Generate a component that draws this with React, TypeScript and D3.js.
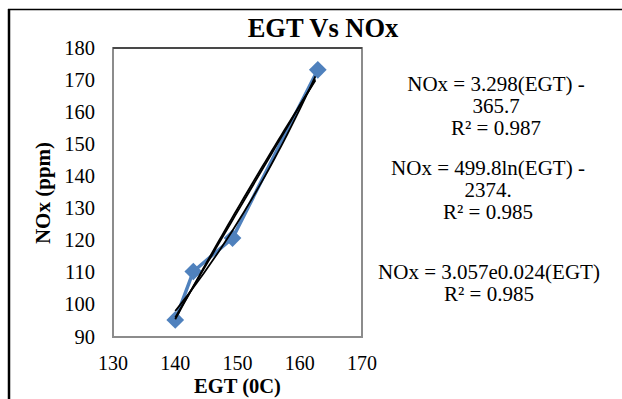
import React from 'react';
import * as d3 from 'd3';

// measured points
const egt = [140, 142.9, 149.2, 162.9];
const nox = [95.3, 110.4, 120.8, 173.2];

const xTicks = [130, 140, 150, 160, 170];
const yTicks = [90, 100, 110, 120, 130, 140, 150, 160, 170, 180];

const eqLinear = ['NOx = 3.298(EGT) -', '365.7', 'R² = 0.987'];
const eqLog = ['NOx = 499.8ln(EGT) -', '2374.', 'R² = 0.985'];
const eqExp = ['NOx = 3.057e0.024(EGT)', 'R² = 0.985'];

const W = 622;
const H = 399;
const plot = { left: 113, right: 362, top: 48, bottom: 337 };
const serif = '"Liberation Serif", "Times New Roman", serif';

// least squares on transformed x / y, used for the three trendlines
function fit(xs: number[], ys: number[]) {
  const mx = d3.mean(xs)!;
  const my = d3.mean(ys)!;
  const sxy = d3.sum(xs, (x, i) => (x - mx) * (ys[i] - my));
  const sxx = d3.sum(xs, x => (x - mx) * (x - mx));
  const b = sxy / sxx;
  return { a: my - b * mx, b };
}

const App = () => {
  const x = d3.scaleLinear().domain([130, 170]).range([plot.left, plot.right]);
  const y = d3.scaleLinear().domain([90, 180]).range([plot.bottom, plot.top]);

  const pts = egt.map((e, i) => ({ e, n: nox[i] }));
  const line = d3.line<{ e: number; n: number }>().x(d => x(d.e)).y(d => y(d.n));

  const lin = fit(egt, nox);
  const lg = fit(egt.map(Math.log), nox);
  const ex = fit(egt, nox.map(Math.log));
  const xs = d3.range(d3.min(egt)!, d3.max(egt)! + 0.01, 0.5);
  const trends = [
    xs.map(e => ({ e, n: lin.a + lin.b * e })),
    xs.map(e => ({ e, n: lg.a + lg.b * Math.log(e) })),
    xs.map(e => ({ e, n: Math.exp(ex.a + ex.b * e) })),
  ];

  const diamond = d3.symbol().type(d3.symbolDiamond2).size(200)()!;

  const block = (lines: string[], cx: number, y0: number, key: string) =>
    lines.map((t, i) => (
      <text key={key + i} x={cx} y={y0 + i * 22} textAnchor="middle" fontSize={21}>{t}</text>
    ));

  return (
    <svg width={W} height={H} style={{ position: 'absolute', left: 0, top: 0, background: '#fff' }}
      fontFamily={serif}>
      <rect width={W} height={H} fill="#fff" />
      {/* chart area border, cut off right and bottom */}
      <line x1={8} x2={W} y1={9.5} y2={9.5} stroke="#000" strokeWidth={1.5} />
      <line x1={9} x2={9} y1={9} y2={H} stroke="#000" strokeWidth={2.5} />

      <text x={323} y={37} textAnchor="middle" fontWeight="bold" fontSize={26.5}>EGT Vs NOx</text>

      <rect x={plot.left} y={plot.top} width={plot.right - plot.left} height={plot.bottom - plot.top}
        fill="none" stroke="#8c8c8c" strokeWidth={2} />
      <line x1={plot.left} x2={plot.right} y1={plot.top} y2={plot.top} stroke="#333" strokeWidth={1.5} />

      {yTicks.map(t => (
        <text key={'y' + t} x={95} y={y(t) + 6.5} textAnchor="end" fontSize={20.5}>{t}</text>
      ))}
      {xTicks.map(t => (
        <text key={'x' + t} x={x(t)} y={370} textAnchor="middle" fontSize={20}>{t}</text>
      ))}
      <text x={(plot.left + plot.right) / 2} y={393} textAnchor="middle" fontWeight="bold" fontSize={20.5}>EGT (0C)</text>
      <text transform={`translate(50,193) rotate(-90)`} textAnchor="middle" fontWeight="bold" fontSize={21}>NOx (ppm)</text>

      <path d={line(pts)!} fill="none" stroke="#4f81bd" strokeWidth={3.5} strokeLinejoin="round" />
      {pts.map((p, i) => (
        <path key={'m' + i} d={diamond} transform={`translate(${x(p.e)},${y(p.n)})`} fill="#4f81bd" />
      ))}
      {trends.map((tr, i) => (
        <path key={'t' + i} d={line(tr)!} fill="none" stroke="#000" strokeWidth={1.8} />
      ))}

      {block(eqLinear, 496, 91, 'a')}
      {block(eqLog, 488, 175, 'b')}
      {block(eqExp, 489, 279, 'c')}
    </svg>
  );
};

export default App;
